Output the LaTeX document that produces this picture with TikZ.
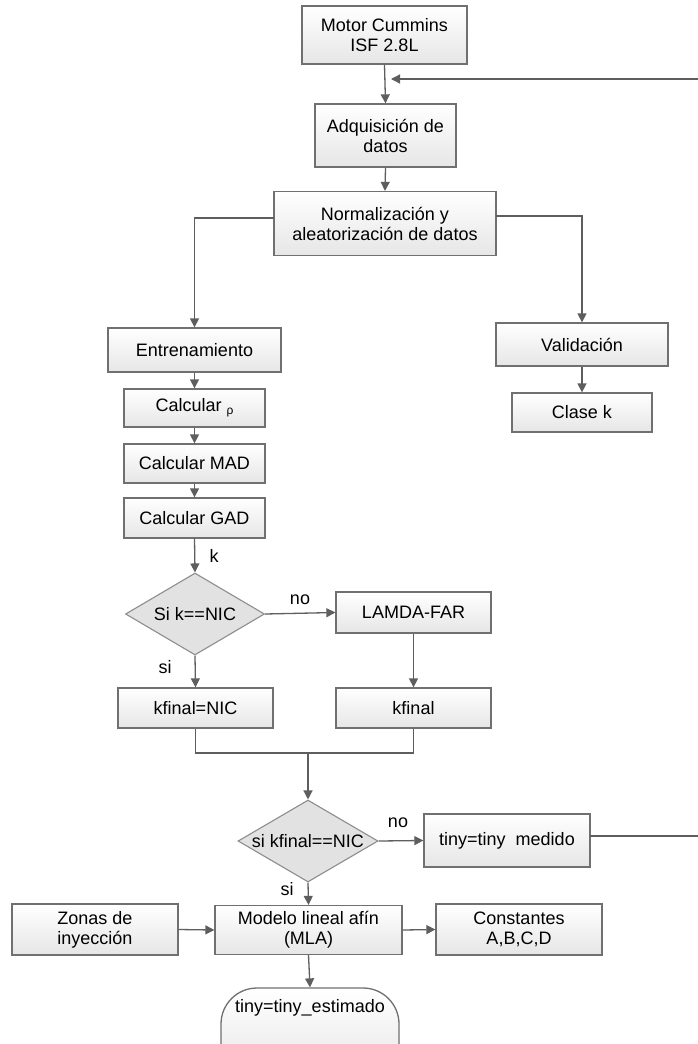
\documentclass[tikz,border=0pt]{standalone}
\usepackage{fontspec}
\setmainfont{Liberation Sans}
\usetikzlibrary{arrows.meta,shapes.geometric}
\definecolor{bordergray}{HTML}{707070}
\definecolor{linegray}{HTML}{5E5E5E}
\definecolor{boxgray}{HTML}{E6E6E6}
\definecolor{diagray}{HTML}{E2E2E2}
\tikzset{
  procbox/.style={draw=bordergray, line width=1.3pt, top color=white, bottom color=boxgray,
    inner sep=0pt, align=center, font=\fontsize{18}{20}\selectfont},
  decbox/.style={draw=bordergray!80, line width=1.1pt, fill=diagray, shape=diamond,
    inner sep=0pt, align=center, font=\fontsize{18}{20}\selectfont},
  conn/.style={draw=linegray, line width=1.3pt},
  arr/.style={conn, -{Triangle[length=9pt,width=9pt]}},
  lbl/.style={font=\fontsize{18}{20}\selectfont, inner sep=0pt},
}
\begin{document}
\begin{tikzpicture}[x=1pt,y=-1pt]
\useasboundingbox (0,0) rectangle (698,1044);
\clip (0,0) rectangle (698,1044);
% nodes
\node[procbox, minimum width=165pt, minimum height=58pt] (motor) at (384.5,35) {Motor Cummins\\ISF 2.8L};
\node[procbox, minimum width=141pt, minimum height=63pt] (adq) at (385.5,135.5) {Adquisición de\\datos};
\node[procbox, minimum width=222pt, minimum height=64pt] (norm) at (385,223.5) {Normalización y\\aleatorización de datos};
\node[procbox, minimum width=173pt, minimum height=44pt] (entr) at (194.5,350) {Entrenamiento};
\node[procbox, minimum width=141pt, minimum height=38pt] (rho) at (194.5,408) {Calcular {\fontsize{12}{12}\selectfont\raisebox{-3pt}{ρ}}};
\node[procbox, minimum width=141pt, minimum height=39pt] (mad) at (194.5,463.5) {Calcular MAD};
\node[procbox, minimum width=141pt, minimum height=40pt] (gad) at (194.5,518) {Calcular GAD};
\node[decbox, minimum width=139pt, minimum height=82pt, aspect=1.7] (d1) at (195,614) {Si k==NIC};
\node[procbox, minimum width=155pt, minimum height=41pt] (lamda) at (413.5,612.5) {LAMDA-FAR};
\node[procbox, minimum width=155pt, minimum height=40pt] (kfnic) at (195.5,708) {kfinal=NIC};
\node[procbox, minimum width=155pt, minimum height=40pt] (kf) at (413.5,708) {kfinal};
\node[decbox, minimum width=140pt, minimum height=82pt, aspect=1.7] (d2) at (308,841) {si kfinal==NIC};
\node[procbox, minimum width=166pt, minimum height=53pt] (medido) at (507,840.5) {tiny=tiny\ \ medido};
\node[procbox, minimum width=172pt, minimum height=43pt] (valid) at (582,344.5) {Validación};
\node[procbox, minimum width=140pt, minimum height=39pt] (clase) at (582,412.5) {Clase k};
\node[procbox, minimum width=166pt, minimum height=51pt] (zonas) at (95,929.5) {Zonas de\\inyección};
\node[procbox, minimum width=187pt, minimum height=49pt] (modelo) at (308.5,930) {Modelo lineal afín\\(MLA)};
\node[procbox, minimum width=166pt, minimum height=51pt] (const) at (519,929.5) {Constantes\\A,B,C,D};
\node[procbox, rounded corners=36pt, minimum width=178pt, minimum height=92pt] (est) at (310,1034) {\smash{\raisebox{22pt}{tiny=tiny\_estimado}}};
% labels
\node[lbl] (lk) at (214,556) {k};
\node[lbl] (lno1) at (300,600) {no};
\node[lbl] (lsi1) at (165,667) {si};
\node[lbl] (lno2) at (398,823) {no};
\node[lbl] (lsi2) at (287,889) {si};
% coordinates
\coordinate (fb) at (391,79);
\coordinate (fbc) at (701,79);
\coordinate (medout) at (590,836);
\coordinate (edge) at (701,836);
\coordinate (merge) at (308,753);
\coordinate (nl) at (274,218);
\coordinate (nr) at (496,216);
% connectors
\draw[arr] (motor.south) -- (adq.north);
\draw[arr] (adq.south) -- (norm.north);
\draw[arr] (nl) -| (entr.north);
\draw[arr] (nr) -| (valid.north);
\draw[arr] (valid.south) -- (clase.north);
\draw[arr] (entr.south) -- (rho.north);
\draw[arr] (rho.south) -- (mad.north);
\draw[arr] (mad.south) -- (gad.north);
\draw[arr] (gad.south) -- (d1.north);
\draw[arr] (d1.east) -- (lamda.west);
\draw[arr] (d1.south) -- (kfnic.north);
\draw[arr] (lamda.south) -- (kf.north);
\draw[conn] (kfnic.south) |- (merge) -| (kf.south);
\draw[arr] (merge) -- (d2.north);
\draw[arr] (d2.east) -- (medido.west);
\draw[arr] (d2.south) -- (modelo.north);
\draw[arr] (zonas.east) -- (modelo.west);
\draw[arr] (modelo.east) -- (const.west);
\draw[arr] (modelo.south) -- (est.north);
\draw[arr] (medout) -- (edge) -- (fbc) -- (fb);
\end{tikzpicture}
\end{document}
